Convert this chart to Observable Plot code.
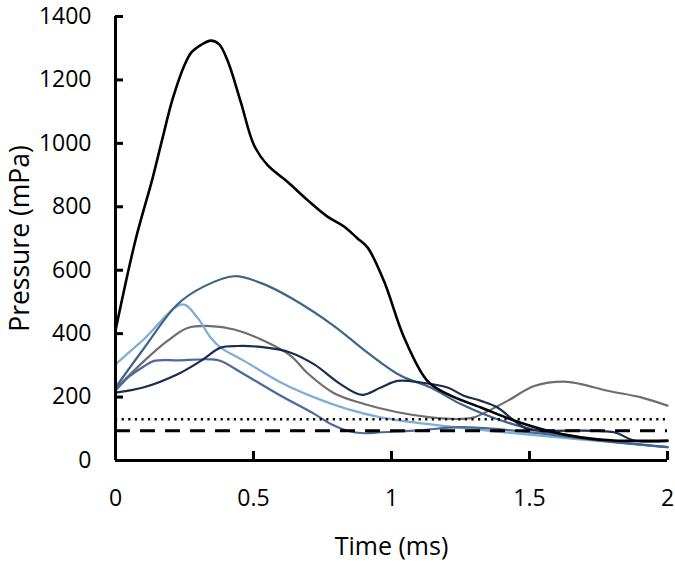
<!DOCTYPE html>
<html>
<head>
<meta charset="utf-8">
<script src="https://cdn.jsdelivr.net/npm/d3@7"></script>
<script src="https://cdn.jsdelivr.net/npm/@observablehq/plot@0.6"></script>
<style>
  html, body { margin: 0; padding: 0; background: #fff; }
  #chart [aria-label="y-axis label"] { font-size: 26.5px; }
</style>
</head>
<body>
<div id="chart"></div>
<script>
// Tick values and axis titles
const xTicks = [0, 0.5, 1, 1.5, 2];
const yTicks = [0, 200, 400, 600, 800, 1000, 1200, 1400];
const xTitle = "Time (ms)";
const yTitle = "Pressure (mPa)";

// Reference thresholds (mPa)
const dottedLevel = 130;
const dashedLevel = 94;

// Series: time (ms) and pressure (mPa)
const blackT = [0, 0.073, 0.134, 0.17, 0.207, 0.249, 0.275, 0.309, 0.345, 0.375, 0.406, 0.454, 0.502, 0.551, 0.623, 0.696, 0.768, 0.828, 0.877, 0.913, 0.973, 1.046, 1.130, 1.203, 1.324, 1.444, 1.565, 1.686, 1.806, 2.0];
const blackV = [410, 697, 889, 1015, 1140, 1245, 1287, 1310, 1324, 1313, 1261, 1130, 994, 931, 879, 821, 769, 738, 700, 672, 565, 387, 251, 209, 167, 126, 94, 73, 63, 63];

const steelT = [0, 0.1, 0.224, 0.321, 0.430, 0.526, 0.635, 0.792, 0.913, 1.034, 1.142, 1.251, 1.397, 1.565, 1.758, 2.0];
const steelV = [230, 350, 492, 549, 581, 560, 513, 424, 340, 267, 230, 178, 126, 88, 63, 42];

const lightT = [0, 0.1, 0.243, 0.297, 0.345, 0.381, 0.466, 0.599, 0.720, 0.841, 0.961, 1.082, 1.251, 1.420, 1.662, 2.0];
const lightV = [303, 380, 492, 450, 387, 356, 314, 246, 199, 162, 136, 120, 103, 88, 68, 42];

const mediumT = [0, 0.05, 0.1, 0.14, 0.224, 0.345, 0.381, 0.466, 0.599, 0.720, 0.780, 0.840, 0.900, 0.961, 1.082, 1.251, 1.444, 1.686, 2.0];
const mediumV = [220, 265, 295, 314, 316, 319, 314, 272, 204, 147, 115, 94, 86, 89, 94, 105, 94, 70, 42];

const navyT = [0, 0.1, 0.225, 0.309, 0.381, 0.442, 0.526, 0.635, 0.720, 0.815, 0.893, 0.961, 1.022, 1.106, 1.203, 1.260, 1.324, 1.384, 1.444, 1.493, 1.565, 1.806, 1.878, 2.0];
const navyV = [214, 230, 272, 314, 356, 361, 358, 340, 303, 241, 207, 230, 251, 246, 230, 205, 188, 167, 126, 99, 94, 89, 63, 61];

const greyT = [0, 0.104, 0.188, 0.261, 0.345, 0.430, 0.526, 0.635, 0.696, 0.792, 0.901, 1.022, 1.142, 1.251, 1.299, 1.420, 1.517, 1.625, 1.686, 1.783, 1.904, 2.0];
const greyV = [225, 314, 377, 418, 424, 413, 382, 330, 275, 212, 178, 152, 136, 131, 136, 188, 235, 249, 241, 220, 199, 173];

const series = [
  {name: "grey", t: greyT, v: greyV, color: "#6e6e6e", width: 2.2},
  {name: "light", t: lightT, v: lightV, color: "#7eaed8", width: 2.2},
  {name: "medium", t: mediumT, v: mediumV, color: "#4a6a9a", width: 2.2},
  {name: "steel", t: steelT, v: steelV, color: "#3e6488", width: 2.2},
  {name: "navy", t: navyT, v: navyV, color: "#1b2c52", width: 2.2},
  {name: "black", t: blackT, v: blackV, color: "#000000", width: 2.6}
];

const lineMarks = series.map(s =>
  Plot.line(s.t.map((t, i) => ({t, v: s.v[i]})), {
    x: "t", y: "v", stroke: s.color, strokeWidth: s.width, curve: "catmull-rom"
  })
);

const chart = Plot.plot({
  width: 675,
  height: 569,
  marginTop: 16,
  marginBottom: 109,
  marginLeft: 115,
  marginRight: 8,
  style: {fontFamily: "'Open Sans', sans-serif", fontSize: "23px", color: "#000", background: "#fff", overflow: "visible"},
  x: {domain: [0, 2]},
  y: {domain: [0, 1400]},
  marks: [
    ...lineMarks,
    Plot.ruleY([dottedLevel], {stroke: "#000", strokeWidth: 2.5, strokeDasharray: "2.2,4.4"}),
    Plot.ruleY([dashedLevel], {stroke: "#000", strokeWidth: 3, strokeDasharray: "15,10"}),
    Plot.axisY({ticks: yTicks, tickSize: -8, tickPadding: 32, strokeWidth: 3, tickFormat: d => String(d),
      label: yTitle, labelAnchor: "center", labelOffset: 105, labelArrow: "none"}),
    Plot.axisX({ticks: xTicks, tickSize: -9, tickPadding: 38, strokeWidth: 3, tickFormat: d => String(d), label: null}),
    Plot.text([xTitle], {text: d => d, frameAnchor: "bottom", dy: 86, fontSize: 25, lineAnchor: "middle"}),
    Plot.ruleX([0], {stroke: "#000", strokeWidth: 3}),
    Plot.ruleY([0], {stroke: "#000", strokeWidth: 3})
  ]
});
document.getElementById("chart").appendChild(chart);
</script>
</body>
</html>
